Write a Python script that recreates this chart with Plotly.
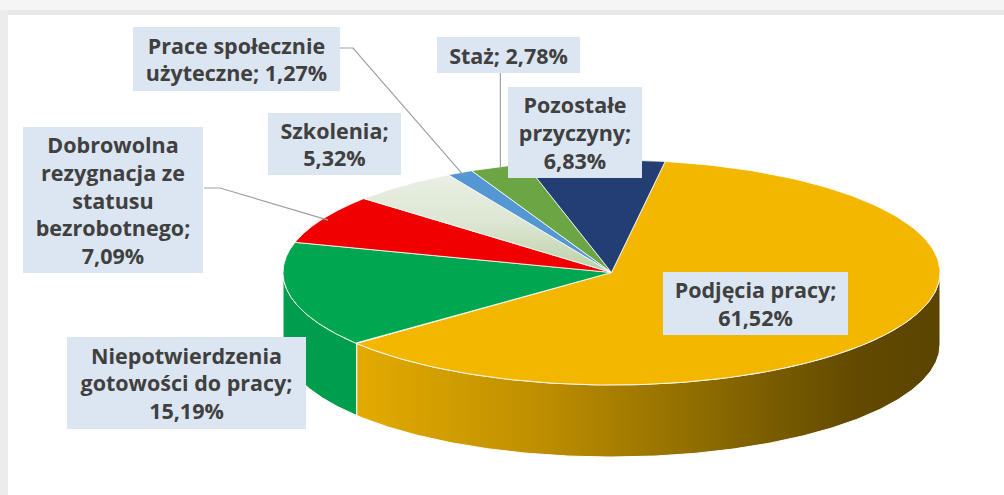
import numpy as np
import plotly.graph_objects as go

# ---- data (clockwise from the top, as in the reference) ----
categories = [
    "Podjęcia pracy",
    "Niepotwierdzenia<br>gotowości do pracy",
    "Dobrowolna<br>rezygnacja ze<br>statusu<br>bezrobotnego",
    "Szkolenia",
    "Prace społecznie<br>użyteczne",
    "Staż",
    "Pozostałe<br>przyczyny",
]
values = [61.52, 15.19, 7.09, 5.32, 1.27, 2.78, 6.83]
value_sep = ["<br>", "<br>", "<br>", "<br>", " ", " ", "<br>"]

# ---- styling / geometry ----
top_colors = ["#F3B700", "#00A650", "#F00000", "grad", "#5597D2", "#6CA544", "#223E72"]
CX, CY, RX, RY, DEPTH = 611.5, 272.5, 328.5, 112.5, 72
START = 80.6  # degrees, parametric angle of the first slice edge

def ell(t_deg, depth=0.0, f=1.0):
    t = np.radians(t_deg)
    return CX + f * RX * np.cos(t), CY - f * RY * np.sin(t) + depth

fig = go.Figure()

# slice angle ranges
bounds = []
t0 = START
for v in values:
    t1 = t0 - v / 100.0 * 360.0
    bounds.append((t0, t1))
    t0 = t1

# ---- side walls (front half only) ----
side_styles = {
    0: dict(fillgradient=dict(type="horizontal",
                              colorscale=[[0, "#E3AB00"], [0.3, "#C09000"], [0.6, "#8C6B00"],
                                          [0.85, "#634A00"], [1, "#5A4400"]])),
    1: dict(fillcolor="#009E4C"),
}
for i, (a, b) in enumerate(bounds):
    hi, lo = a, b
    for k in (-1, 0, 1):
        s_lo, s_hi = -180 + 360 * k, 0 + 360 * k
        l, h = max(lo, s_lo), min(hi, s_hi)
        if h > l:
            ts = np.linspace(l, h, 200)
            xt, yt = ell(ts)
            xb, yb = ell(ts[::-1], DEPTH)
            xs = np.concatenate([xt, xb, xt[:1]])
            ys = np.concatenate([yt, yb, yt[:1]])
            st = side_styles.get(i, dict(fillcolor="#888888"))
            kw = dict(st)
            if "fillgradient" in kw:
                kw["fillgradient"] = dict(kw["fillgradient"], start=float(xs.min()), stop=float(xs.max()))
            fig.add_trace(go.Scatter(x=xs, y=ys, mode="lines", fill="toself",
                                     line=dict(color="white", width=1),
                                     hoverinfo="skip", showlegend=False, **kw))

# ---- top face slices ----
for i, (a, b) in enumerate(bounds):
    ts = np.linspace(a, b, 200)
    xe, ye = ell(ts)
    xs = np.concatenate([[CX], xe, [CX]])
    ys = np.concatenate([[CY], ye, [CY]])
    if top_colors[i] == "grad":
        kw = dict(fillgradient=dict(type="vertical",
                                    colorscale=[[0, "#EAEFE5"], [0.5, "#DCE6D2"], [1, "#B9D0A4"]],
                                    start=float(ys.min()), stop=float(CY)))
    else:
        kw = dict(fillcolor=top_colors[i])
    fig.add_trace(go.Scatter(x=xs, y=ys, mode="lines", fill="toself",
                             line=dict(color="white", width=0.8),
                             name=categories[i].replace("<br>", " "),
                             hoverinfo="skip", showlegend=False, **kw))

# ---- labels ----
label_pos = {  # centre x, centre y, box width, box height
    0: (755.5, 303.5, 185, 63),
    1: (186.5, 383, 239, 92),
    2: (113, 200, 180, 146),
    3: (334, 144, 133, 62),
    4: (236.5, 59, 207, 64),
    5: (508.5, 55, 143, 36),
    6: (575, 132.5, 134, 91),
}
for i, cat in enumerate(categories):
    txt = f"{cat};{value_sep[i]}{values[i]:.2f}".replace(".", ",") + "%"
    x, y, w, h = label_pos[i]
    fig.add_annotation(x=x, y=y, xref="x", yref="y", text=txt, showarrow=False,
                       xanchor="center", yanchor="middle", width=w, height=h,
                       bgcolor="#DCE6F2", borderpad=0, borderwidth=0, align="center",
                       font=dict(family="Open Sans", size=21.5, color="#404040", weight="bold"))

# ---- leader lines (to slice midpoints) ----
def mid(i, f=0.98):
    a, b = bounds[i]
    return ell((a + b) / 2.0, 0, f)

lx, ly = mid(4)
fig.add_trace(go.Scatter(x=[340, 353, lx], y=[48, 48, ly], mode="lines",
                         line=dict(color="#A0A0A0", width=1.2), hoverinfo="skip", showlegend=False))
sx, sy = mid(5)
fig.add_trace(go.Scatter(x=[sx, sx], y=[73, sy], mode="lines",
                         line=dict(color="#A0A0A0", width=1.2), hoverinfo="skip", showlegend=False))
dx, dy = mid(2)
fig.add_trace(go.Scatter(x=[204, 220, dx], y=[188, 188, dy], mode="lines",
                         line=dict(color="#A0A0A0", width=1.2), hoverinfo="skip", showlegend=False))

# ---- page frame ----
shapes = [
    dict(type="rect", xref="paper", yref="paper", x0=0, x1=1, y0=1 - 10 / 495, y1=1,
         fillcolor="#F5F5F5", line=dict(width=0), layer="below"),
    dict(type="rect", xref="paper", yref="paper", x0=0, x1=1, y0=1 - 15 / 495, y1=1 - 10 / 495,
         fillcolor="#E8E8E8", line=dict(width=0), layer="below"),
    dict(type="rect", xref="paper", yref="paper", x0=0, x1=8 / 1004, y0=0, y1=1 - 10 / 495,
         fillcolor="#ECECEC", line=dict(width=0), layer="below"),
]

fig.update_layout(
    width=1004, height=495, autosize=False,
    margin=dict(l=0, r=0, t=0, b=0),
    paper_bgcolor="white", plot_bgcolor="rgba(0,0,0,0)",
    xaxis=dict(range=[0, 1004], visible=False, fixedrange=True),
    yaxis=dict(range=[495, 0], visible=False, fixedrange=True),
    shapes=shapes,
    showlegend=False,
)

fig.write_html("out.html", config={"displayModeBar": False},
               post_script="document.body.style.margin='0';document.body.style.overflow='hidden';")
